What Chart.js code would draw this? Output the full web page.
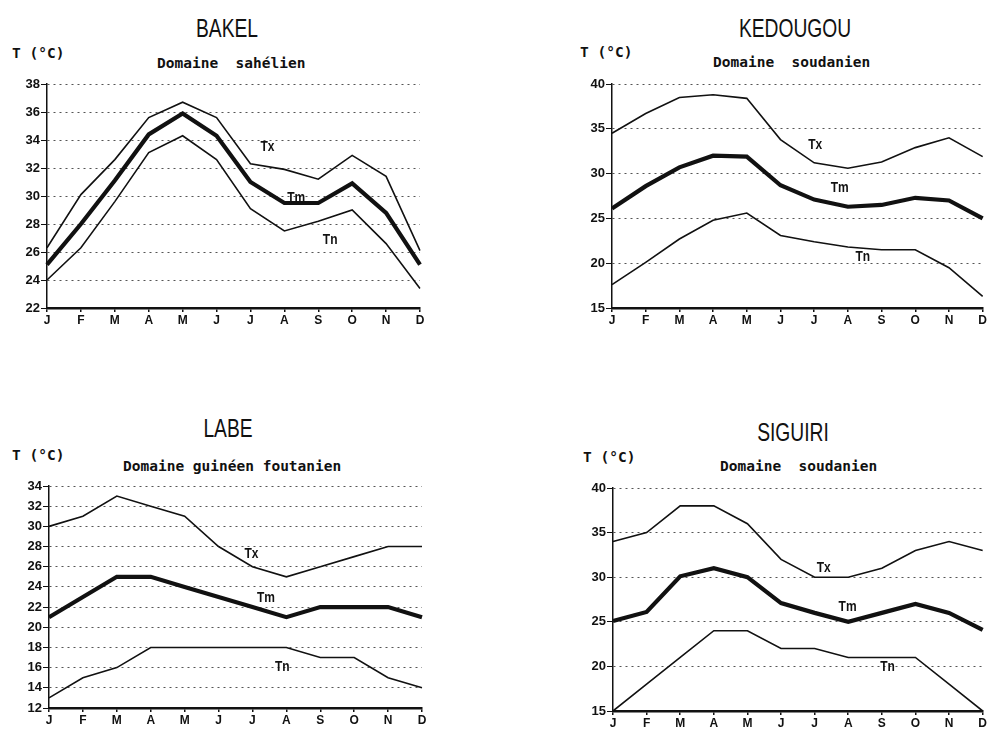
<!DOCTYPE html>
<html>
<head>
<meta charset="utf-8">
<script src="https://cdn.jsdelivr.net/npm/chart.js@4"></script>
<style>
  body { margin: 0; background: #fff; width: 988px; height: 732px; position: relative; overflow: hidden; }
  canvas { position: absolute; }
  .titre { position: absolute; font-family: 'Liberation Sans', Arial, sans-serif; font-size: 26px; color: #111; transform: translate(-50%, -50%) scaleX(0.74); white-space: nowrap; }
  .mono { position: absolute; font-family: 'DejaVu Sans Mono', monospace; font-weight: bold; font-size: 14.5px; color: #111; transform: translateY(-50%); white-space: pre; }
</style>
</head>
<body>
<div class="titre" style="left:227px; top:28px;">BAKEL</div>
<div class="mono" style="left:12px; top:53px;">T (°C)</div>
<div class="mono" style="left:157px; top:63px;">Domaine  sahélien</div>

<div class="titre" style="left:795px; top:28px;">KEDOUGOU</div>
<div class="mono" style="left:580px; top:52px;">T (°C)</div>
<div class="mono" style="left:713px; top:62px;">Domaine  soudanien</div>

<div class="titre" style="left:228px; top:428px;">LABE</div>
<div class="mono" style="left:12px; top:455px;">T (°C)</div>
<div class="mono" style="left:123px; top:466px;">Domaine guinéen foutanien</div>

<div class="titre" style="left:793px; top:432px;">SIGUIRI</div>
<div class="mono" style="left:583px; top:457px;">T (°C)</div>
<div class="mono" style="left:720px; top:466px;">Domaine  soudanien</div>

<canvas id="bakel" width="423" height="256" style="left:7px; top:74px;"></canvas>
<canvas id="kedougou" width="416" height="256" style="left:572px; top:74px;"></canvas>
<canvas id="labe" width="424" height="254" style="left:9px; top:476px;"></canvas>
<canvas id="siguiri" width="415" height="255" style="left:573px; top:478px;"></canvas>

<script>
// Mois
const mois = ['J', 'F', 'M', 'A', 'M', 'J', 'J', 'A', 'S', 'O', 'N', 'D'];

// BAKEL - Domaine sahélien
const bakelTx = [26.3, 30.1, 32.6, 35.6, 36.7, 35.6, 32.3, 31.9, 31.2, 32.9, 31.4, 26.1];
const bakelTm = [25.1, 28.0, 31.1, 34.4, 35.9, 34.3, 31.0, 29.5, 29.5, 30.9, 28.8, 25.1];
const bakelTn = [24.0, 26.3, 29.6, 33.1, 34.3, 32.6, 29.1, 27.5, 28.2, 29.0, 26.6, 23.4];

// KEDOUGOU - Domaine soudanien
const kedougouTx = [34.5, 36.7, 38.5, 38.8, 38.4, 33.8, 31.2, 30.6, 31.3, 32.9, 34.0, 31.9];
const kedougouTm = [26.1, 28.6, 30.7, 32.0, 31.9, 28.7, 27.1, 26.3, 26.5, 27.3, 27.0, 25.0];
const kedougouTn = [17.6, 20.1, 22.7, 24.8, 25.6, 23.1, 22.4, 21.8, 21.5, 21.5, 19.5, 16.3];

// LABE - Domaine guinéen foutanien
const labeTx = [30, 31, 33, 32, 31, 28, 26, 25, 26, 27, 28, 28];
const labeTm = [21, 23, 25, 25, 24, 23, 22, 21, 22, 22, 22, 21];
const labeTn = [13, 15, 16, 18, 18, 18, 18, 18, 17, 17, 15, 14];

// SIGUIRI - Domaine soudanien
const siguiriTx = [34, 35, 38, 38, 36, 32, 30, 30, 31, 33, 34, 33];
const siguiriTm = [25.1, 26.1, 30.1, 31, 30, 27.1, 26, 25, 26, 27, 26, 24.1];
const siguiriTn = [15, 18, 21, 24, 24, 22, 22, 21, 21, 21, 18, 15];

// Étiquettes des courbes : [texte, indice du mois, valeur]
const bakelEtiq = [['Tx', 6.5, 33.5], ['Tm', 7.35, 29.9], ['Tn', 8.35, 26.9]];
const kedougouEtiq = [['Tx', 6.03, 33.2], ['Tm', 6.76, 28.4], ['Tn', 7.44, 20.7]];
const labeEtiq = [['Tx', 5.97, 27.3], ['Tm', 6.4, 22.9], ['Tn', 6.88, 16.1]];
const siguiriEtiq = [['Tx', 6.27, 31.1], ['Tm', 6.98, 26.7], ['Tn', 8.17, 19.9]];

const police = "'Liberation Sans', Arial, sans-serif";

const etiquettesPlugin = {
    id: 'etiquettes',
    afterDatasetsDraw(chart, args, opts) {
        const ctx = chart.ctx;
        opts.liste.forEach(([txt, i, v]) => {
            ctx.save();
            ctx.translate(chart.scales.x.getPixelForValue(i), chart.scales.y.getPixelForValue(v));
            ctx.scale(0.8, 1); // lettres étroites comme l'original
            ctx.fillStyle = '#111';
            ctx.font = 'bold 15px ' + police;
            ctx.textAlign = 'center';
            ctx.textBaseline = 'middle';
            ctx.fillText(txt, 0, 0);
            ctx.restore();
        });
    }
};

function creerGraphique(id, tx, tm, tn, ymin, ymax, pas, etiq, padDroite) {
    const serie = (data, w) => ({
        data: data,
        borderColor: '#111',
        borderWidth: w,
        pointRadius: 0,
        tension: 0,
        fill: false
    });
    return new Chart(document.getElementById(id), {
        type: 'line',
        data: {
            labels: mois,
            datasets: [serie(tx, 1.6), serie(tm, 4.2), serie(tn, 1.6)]
        },
        plugins: [etiquettesPlugin],
        options: {
            responsive: false,
            animation: false,
            layout: { padding: { top: 10, right: padDroite, left: 0, bottom: 0 } },
            plugins: {
                legend: { display: false },
                tooltip: { enabled: false },
                etiquettes: { liste: etiq }
            },
            scales: {
                x: {
                    offset: false,
                    afterFit: s => { s.height = 22; },
                    grid: { drawOnChartArea: false, drawTicks: true, tickLength: 4, color: '#111', lineWidth: 1.5 },
                    border: { display: true, color: '#111', width: 2.5 },
                    ticks: { color: '#111', padding: 1, maxRotation: 0, autoSkip: false, font: { family: police, size: 12, weight: 'bold' } }
                },
                y: {
                    min: ymin,
                    max: ymax,
                    afterFit: s => { s.width = 40; },
                    grid: { color: '#555', lineWidth: 1, tickColor: '#111', tickLength: 6, tickBorderDash: [] },
                    border: { display: true, color: '#111', width: 1.5, dash: [2, 4] },
                    ticks: { stepSize: pas, color: '#111', padding: 1, font: { family: police, size: 13, weight: 'bold' } }
                }
            }
        }
    });
}

creerGraphique('bakel', bakelTx, bakelTm, bakelTn, 22, 38, 2, bakelEtiq, 10);
creerGraphique('kedougou', kedougouTx, kedougouTm, kedougouTn, 15, 40, 5, kedougouEtiq, 2);
creerGraphique('labe', labeTx, labeTm, labeTn, 12, 34, 2, labeEtiq, 11);
creerGraphique('siguiri', siguiriTx, siguiriTm, siguiriTn, 15, 40, 5, siguiriEtiq, 1);
</script>
</body>
</html>
